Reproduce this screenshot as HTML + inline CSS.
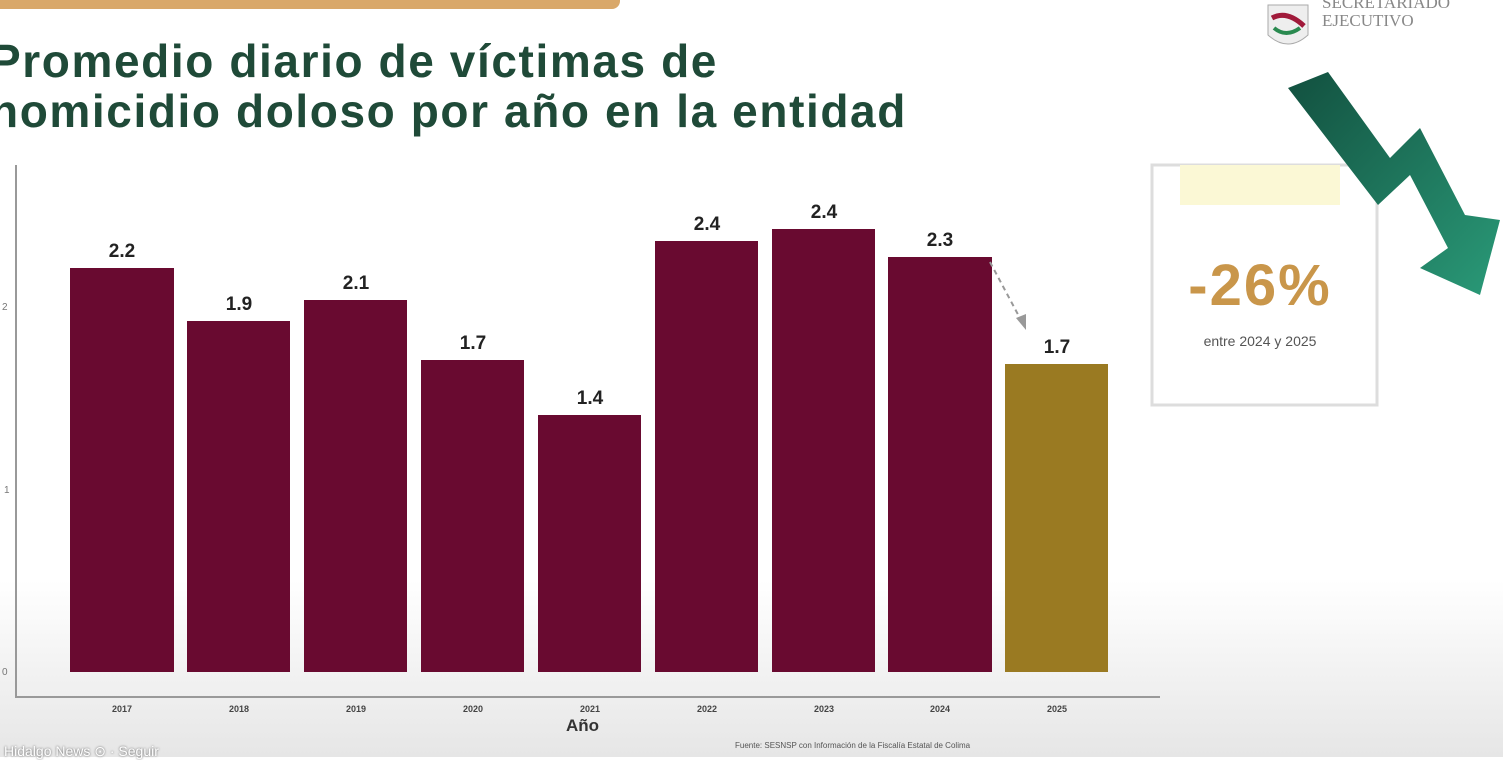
<!DOCTYPE html>
<html><head><meta charset="utf-8"><style>
body{margin:0;width:1503px;height:757px;overflow:hidden;background:#fff;font-family:"Liberation Sans",sans-serif;position:relative}
.t{position:absolute;left:-10px;font-weight:bold;font-size:46px;color:#1f4a38;letter-spacing:1.6px;white-space:nowrap}
.bar{position:absolute;background:#690a30;bottom:85px}
.lab{position:absolute;font-weight:bold;font-size:19px;color:#222;width:104px;text-align:center}
.yr{position:absolute;top:704px;font-size:9px;font-weight:bold;color:#444;width:104px;text-align:center}
</style></head><body>
<div style="position:absolute;left:0;top:580px;width:1503px;height:177px;background:linear-gradient(#fff,#e6e6e6)"></div>
<div style="position:absolute;left:0;top:0;width:620px;height:9px;background:#d9a86a;border-radius:0 0 8px 0"></div>
<div class="t" style="top:34px">Promedio diario de víctimas de</div>
<div class="t" style="top:84px">homicidio doloso por año en la entidad</div>
<div style="position:absolute;left:15px;top:165px;width:2px;height:532px;background:#999"></div>
<div style="position:absolute;left:15px;top:696px;width:1145px;height:2px;background:#999"></div>
<div style="position:absolute;left:2px;top:302px;font-size:10px;color:#777">2</div>
<div style="position:absolute;left:4px;top:485px;font-size:10px;color:#777">1</div>
<div style="position:absolute;left:2px;top:667px;font-size:10px;color:#777">0</div>

<div class="bar" style="left:70px;width:104px;top:268px"></div><div class="lab" style="left:70px;top:241px">2.2</div><div class="yr" style="left:70px">2017</div>
<div class="bar" style="left:187px;width:103px;top:321px"></div><div class="lab" style="left:187px;top:294px">1.9</div><div class="yr" style="left:187px">2018</div>
<div class="bar" style="left:304px;width:103px;top:300px"></div><div class="lab" style="left:304px;top:273px">2.1</div><div class="yr" style="left:304px">2019</div>
<div class="bar" style="left:421px;width:103px;top:360px"></div><div class="lab" style="left:421px;top:333px">1.7</div><div class="yr" style="left:421px">2020</div>
<div class="bar" style="left:538px;width:103px;top:415px"></div><div class="lab" style="left:538px;top:388px">1.4</div><div class="yr" style="left:538px">2021</div>
<div class="bar" style="left:655px;width:103px;top:241px"></div><div class="lab" style="left:655px;top:214px">2.4</div><div class="yr" style="left:655px">2022</div>
<div class="bar" style="left:772px;width:103px;top:229px"></div><div class="lab" style="left:772px;top:202px">2.4</div><div class="yr" style="left:772px">2023</div>
<div class="bar" style="left:888px;width:104px;top:257px"></div><div class="lab" style="left:888px;top:230px">2.3</div><div class="yr" style="left:888px">2024</div>
<div class="bar" style="left:1005px;width:103px;top:364px;background:#9a7a22"></div><div class="lab" style="left:1005px;top:337px">1.7</div><div class="yr" style="left:1005px">2025</div>
<svg style="position:absolute;left:0;top:0" width="1503" height="757">
<defs><linearGradient id="g" x1="0" y1="0" x2="1" y2="1"><stop offset="0" stop-color="#12503f"/><stop offset="1" stop-color="#2a9a78"/></linearGradient></defs>
<line x1="990" y1="262" x2="1022" y2="322" stroke="#999" stroke-width="2" stroke-dasharray="5,4"/>
<polygon points="1016,318 1026,330 1026,314" fill="#999"/>
<rect x="1152" y="165" width="225" height="240" fill="#fff" stroke="#ddd" stroke-width="3"/>
<rect x="1180" y="165" width="160" height="40" fill="#fbf8d5"/>
<polygon points="1288,88 1328,72 1390,158 1420,128 1465,215 1500,220 1480,295 1420,268 1448,248 1410,175 1378,205" fill="url(#g)"/>
<path d="M1268 5 h40 v30 q-20 18 -40 0z" fill="#eee" stroke="#aaa"/>
<path d="M1272 18 q15 -8 32 8" stroke="#a01a3a" stroke-width="5" fill="none"/>
<path d="M1274 28 q12 10 26 0" stroke="#2a8a50" stroke-width="4" fill="none"/>
</svg>
<div style="position:absolute;left:1322px;top:-6px;font-family:'Liberation Serif',serif;font-size:17px;color:#888;line-height:18px">SECRETARIADO<br>EJECUTIVO</div>
<div style="position:absolute;left:1160px;top:252px;width:200px;text-align:center;font-weight:bold;font-size:58px;letter-spacing:2px;color:#c9964a">-26%</div>
<div style="position:absolute;left:1160px;top:333px;width:200px;text-align:center;font-size:14px;color:#555">entre 2024 y 2025</div>
<div style="position:absolute;left:566px;top:716px;font-weight:bold;font-size:17px;color:#333">Año</div>
<div style="position:absolute;left:735px;top:741px;font-size:8px;color:#555">Fuente: SESNSP con Información de la Fiscalía Estatal de Colima</div>
<div style="position:absolute;left:4px;top:743px;font-size:14px;color:#fff;text-shadow:0 0 2px #555">Hidalgo News ⊙ · Seguir</div>
</body></html>
